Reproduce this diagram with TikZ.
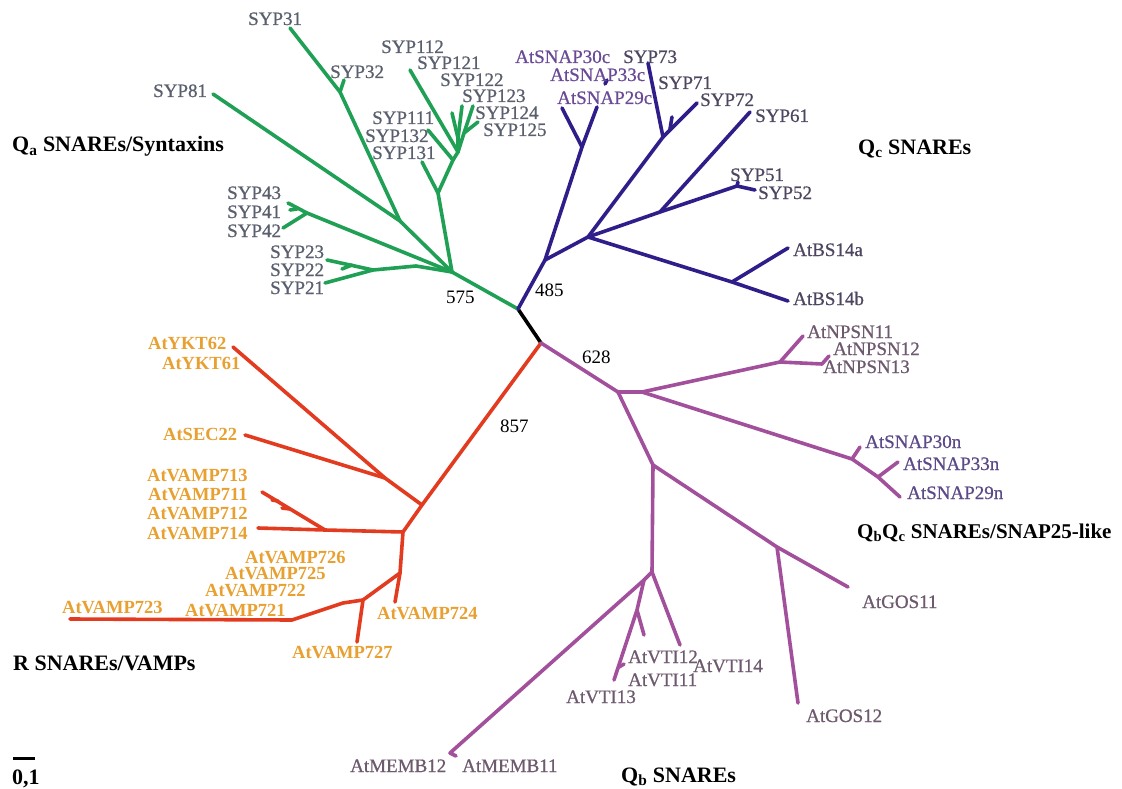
\documentclass[tikz,border=0pt]{standalone}
\usepackage{fontspec}
\setmainfont{Liberation Serif}
\newfontfamily\labfont[FakeBold=0.7]{Liberation Serif}
\definecolor{cgreen}{HTML}{1FA055}
\definecolor{cindigo}{HTML}{2F1E8A}
\definecolor{cred}{HTML}{E23B1F}
\definecolor{cmag}{HTML}{A3509C}
\definecolor{tsyp}{HTML}{5A5F6E}
\definecolor{tqcsnap}{HTML}{6A4A96}
\definecolor{tqcsyp}{HTML}{4E4660}
\definecolor{tqb}{HTML}{6E5A6E}
\definecolor{tqbsnap}{HTML}{5C4A88}
\definecolor{torange}{HTML}{E8A030}
\tikzset{
  br/.style={line width=3.6pt, line cap=round, line join=round},
  grn/.style={br, draw=cgreen},
  ind/.style={br, draw=cindigo},
  rd/.style={br, draw=cred},
  mg/.style={br, draw=cmag},
  lab/.style={anchor=base west, inner sep=0pt, font=\labfont\fontsize{19}{19}\selectfont},
  olab/.style={anchor=base west, inner sep=0pt, text=torange, font=\fontsize{18.5}{18.5}\selectfont\bfseries},
  num/.style={anchor=base west, inner sep=0pt, font=\fontsize{19}{19}\selectfont},
  cat/.style={anchor=base west, inner sep=0pt, font=\fontsize{22}{22}\selectfont\bfseries},
}
\begin{document}
\begin{tikzpicture}[x=1pt,y=-1pt]
\useasboundingbox (0,0) rectangle (1122,789);
\fill[white] (0,0) rectangle (1122,789);
% ---------- coordinates ----------
\coordinate (r0) at (518,309);
\coordinate (rB) at (541,343);
% green
\coordinate (gA) at (452,272);
\coordinate (gB) at (416,266);
\coordinate (gC) at (373,270);
\coordinate (t23) at (327,260);
\coordinate (t21) at (325,283);
\coordinate (s22a) at (352,265);
\coordinate (s22b) at (342,269);
\coordinate (gD) at (307,213);
\coordinate (t43) at (288,203);
\coordinate (t42) at (283,228);
\coordinate (s41a) at (297,209);
\coordinate (s41b) at (290,210);
\coordinate (gE) at (400,221);
\coordinate (t81) at (213,94);
\coordinate (gF) at (340,92);
\coordinate (t31) at (290,28);
\coordinate (t32) at (344,80);
\coordinate (gG) at (438,193);
\coordinate (t131) at (422,162);
\coordinate (gH) at (453,160);
\coordinate (t132) at (428,130);
\coordinate (gI) at (458,152);
\coordinate (t112) at (410,70);
\coordinate (gJ) at (458,138);
\coordinate (t121) at (452,113);
\coordinate (t122) at (462,106);
\coordinate (gK) at (464,133);
\coordinate (t123) at (473,106);
\coordinate (t125) at (478,122);
% indigo
\coordinate (iI) at (545,260);
\coordinate (iJ) at (582,147);
\coordinate (t30c) at (562,108);
\coordinate (t29c) at (597,107);
\coordinate (s33a) at (605,84);
\coordinate (s33b) at (607,80);
\coordinate (iK) at (588,237);
\coordinate (iL) at (732,282);
\coordinate (tBSa) at (788,248);
\coordinate (tBSb) at (788,301);
\coordinate (iM) at (660,212);
\coordinate (iN) at (737,186);
\coordinate (t52) at (755,190);
\coordinate (t51) at (738,182);
\coordinate (t61) at (750,112);
\coordinate (iO) at (663,137);
\coordinate (t73) at (648,63);
\coordinate (t72) at (697,103);
\coordinate (s71a) at (670,129);
\coordinate (s71b) at (672,117);
% red
\coordinate (rP) at (422,505);
\coordinate (rQ) at (385,478);
\coordinate (tYKT) at (233,347);
\coordinate (tSEC) at (245,435);
\coordinate (rR) at (403,532);
\coordinate (rS) at (325,530);
\coordinate (t714) at (258,528);
\coordinate (t711) at (262,492);
\coordinate (s712a) at (272,500);
\coordinate (s712b) at (278,501);
\coordinate (s713a) at (282,508);
\coordinate (s713b) at (290,509);
\coordinate (rT) at (400,573);
\coordinate (t724) at (395,602);
\coordinate (rU) at (363,600);
\coordinate (t727) at (357,642);
\coordinate (rV) at (343,603);
\coordinate (rW) at (292,620);
\coordinate (t723) at (70,619);
% magenta
\coordinate (mV) at (618,392);
\coordinate (mW) at (642,392);
\coordinate (mX) at (780,362);
\coordinate (tN11) at (803,336);
\coordinate (mX2) at (822,364);
\coordinate (tN12) at (829,356);
\coordinate (mY) at (852,459);
\coordinate (t30n) at (860,447);
\coordinate (mZ) at (878,477);
\coordinate (t33n) at (898,462);
\coordinate (t29n) at (900,497);
\coordinate (mAA) at (653,465);
\coordinate (mAB) at (777,547);
\coordinate (tG11) at (848,587);
\coordinate (tG12) at (798,703);
\coordinate (mAC) at (652,572);
\coordinate (mAD) at (644,580);
\coordinate (tMEMB) at (450,753);
\coordinate (sMEMB) at (456,756);
\coordinate (mAE) at (637,610);
\coordinate (tV13) at (614,680);
\coordinate (tV12) at (644,635);
\coordinate (sV11a) at (619,667);
\coordinate (sV11b) at (624,664);
\coordinate (tV14) at (680,645);
% ---------- branches ----------
\draw[br, draw=black] (r0) -- (rB);
\draw[grn] (r0) -- (gA);
\draw[grn] (gA) -- (gB) -- (gC) -- (t23);
\draw[grn] (gC) -- (t21);
\draw[grn] (s22a) -- (s22b);
\draw[grn] (gA) -- (gD) -- (t43);
\draw[grn] (gD) -- (t42);
\draw[grn] (s41a) -- (s41b);
\draw[grn] (gA) -- (gE) -- (t81);
\draw[grn] (gE) -- (gF) -- (t31);
\draw[grn] (gF) -- (t32);
\draw[grn] (gA) -- (gG) -- (t131);
\draw[grn] (gG) -- (gH) -- (t132);
\draw[grn] (gH) -- (gI) -- (t112);
\draw[grn] (gI) -- (gJ) -- (t121);
\draw[grn] (gJ) -- (t122);
\draw[grn] (gI) -- (gK) -- (t123);
\draw[grn] (gK) -- (t125);
\draw[ind] (r0) -- (iI) -- (iJ) -- (t30c);
\draw[ind] (iJ) -- (t29c);
\draw[ind] (s33a) -- (s33b);
\draw[ind] (iI) -- (iK) -- (iL) -- (tBSb);
\draw[ind] (iL) -- (tBSa);
\draw[ind] (iK) -- (iM) -- (iN) -- (t52);
\draw[ind] (iN) -- (t51);
\draw[ind] (iM) -- (t61);
\draw[ind] (iK) -- (iO) -- (t73);
\draw[ind] (iO) -- (t72);
\draw[ind] (s71a) -- (s71b);
\draw[rd] (rB) -- (rP) -- (rQ) -- (tYKT);
\draw[rd] (rQ) -- (tSEC);
\draw[rd] (rP) -- (rR) -- (rS) -- (t714);
\draw[rd] (rS) -- (t711);
\draw[rd] (s712a) -- (s712b);
\draw[rd] (s713a) -- (s713b);
\draw[rd] (rR) -- (rT) -- (t724);
\draw[rd] (rT) -- (rU) -- (t727);
\draw[rd] (rU) -- (rV) -- (rW) -- (t723);
\draw[mg] (rB) -- (mV) -- (mW) -- (mX) -- (tN11);
\draw[mg] (mX) -- (mX2) -- (tN12);
\draw[mg] (mW) -- (mY) -- (t30n);
\draw[mg] (mY) -- (mZ) -- (t33n);
\draw[mg] (mZ) -- (t29n);
\draw[mg] (mV) -- (mAA) -- (mAB) -- (tG11);
\draw[mg] (mAB) -- (tG12);
\draw[mg] (mAA) -- (mAC) -- (mAD) -- (tMEMB) -- (sMEMB);
\draw[mg] (mAD) -- (mAE) -- (tV13);
\draw[mg] (mAE) -- (tV12);
\draw[mg] (sV11a) -- (sV11b);
\draw[mg] (mAC) -- (tV14);
% ---------- labels: Qa ----------
\node[lab, text=tsyp] (l31) at (248,25) {SYP31};
\node[lab, text=tsyp] (l32) at (330,78) {SYP32};
\node[lab, text=tsyp] (l81) at (153,97) {SYP81};
\node[lab, text=tsyp] (l112) at (381,53) {SYP112};
\node[lab, text=tsyp] (l121) at (417,69) {SYP121};
\node[lab, text=tsyp] (l122) at (440,86) {SYP122};
\node[lab, text=tsyp] (l123) at (462,102) {SYP123};
\node[lab, text=tsyp] (l124) at (475,119) {SYP124};
\node[lab, text=tsyp] (l125) at (483,136) {SYP125};
\node[lab, text=tsyp] (l111) at (372,124) {SYP111};
\node[lab, text=tsyp] (l132) at (365,142) {SYP132};
\node[lab, text=tsyp] (l131) at (372,159) {SYP131};
\node[lab, text=tsyp] (l43) at (227,199) {SYP43};
\node[lab, text=tsyp] (l41) at (227,218) {SYP41};
\node[lab, text=tsyp] (l42) at (227,237) {SYP42};
\node[lab, text=tsyp] (l23) at (270,258) {SYP23};
\node[lab, text=tsyp] (l22) at (270,276) {SYP22};
\node[lab, text=tsyp] (l21) at (270,294) {SYP21};
\node[num] (n575) at (446,303) {575};
% ---------- labels: Qc ----------
\node[lab, text=tqcsnap] (l30c) at (515,63) {AtSNAP30c};
\node[lab, text=tqcsyp] (l73) at (623,63) {SYP73};
\node[lab, text=tqcsnap] (l33c) at (550,81) {AtSNAP33c};
\node[lab, text=tqcsyp] (l71) at (658,89) {SYP71};
\node[lab, text=tqcsnap] (l29c) at (557,104) {AtSNAP29c};
\node[lab, text=tqcsyp] (l72) at (700,106) {SYP72};
\node[lab, text=tqcsyp] (l61) at (755,122) {SYP61};
\node[lab, text=tqcsyp] (l51) at (730,181) {SYP51};
\node[lab, text=tqcsyp] (l52) at (758,199) {SYP52};
\node[lab, text=tqcsyp] (lBSa) at (793,256) {AtBS14a};
\node[lab, text=tqcsyp] (lBSb) at (793,305) {AtBS14b};
\node[num] (n485) at (535,296) {485};
% ---------- labels: Qb / QbQc ----------
\node[lab, text=tqb] (lN11) at (807,338) {AtNPSN11};
\node[lab, text=tqb] (lN12) at (833,355) {AtNPSN12};
\node[lab, text=tqb] (lN13) at (823,373) {AtNPSN13};
\node[lab, text=tqbsnap] (l30n) at (865,448) {AtSNAP30n};
\node[lab, text=tqbsnap] (l33n) at (903,470) {AtSNAP33n};
\node[lab, text=tqbsnap] (l29n) at (907,499) {AtSNAP29n};
\node[lab, text=tqb] (lG11) at (862,608) {AtGOS11};
\node[lab, text=tqb] (lG12) at (806,722) {AtGOS12};
\node[lab, text=tqb] (lV12) at (628,663) {AtVTI12};
\node[lab, text=tqb] (lV14) at (693,672) {AtVTI14};
\node[lab, text=tqb] (lV11) at (628,686) {AtVTI11};
\node[lab, text=tqb] (lV13) at (566,703) {AtVTI13};
\node[lab, text=tqb] (lM12) at (350,772) {AtMEMB12};
\node[lab, text=tqb] (lM11) at (462,772) {AtMEMB11};
\node[num] (n628) at (582,363) {628};
% ---------- labels: R ----------
\node[olab] (lY62) at (148,349) {AtYKT62};
\node[olab] (lY61) at (162,369) {AtYKT61};
\node[olab] (lSEC) at (163,440) {AtSEC22};
\node[olab] (l713) at (147,481) {AtVAMP713};
\node[olab] (l711) at (148,500) {AtVAMP711};
\node[olab] (l712) at (147,519) {AtVAMP712};
\node[olab] (l714) at (147,539) {AtVAMP714};
\node[olab] (l726) at (245,563) {AtVAMP726};
\node[olab] (l725) at (225,579) {AtVAMP725};
\node[olab] (l722) at (205,596) {AtVAMP722};
\node[olab] (l721) at (185,616) {AtVAMP721};
\node[olab] (l723) at (62,613) {AtVAMP723};
\node[olab] (l724) at (377,619) {AtVAMP724};
\node[olab] (l727) at (292,658) {AtVAMP727};
\node[num] (n857) at (500,432) {857};
% ---------- group titles ----------
\node[cat] (cQa) at (12,152) {Q\textsubscript{a} SNAREs/Syntaxins};
\node[cat] (cQc) at (858,154) {Q\textsubscript{c} SNAREs};
\node[cat, font=\fontsize{21}{21}\selectfont\bfseries] (cQbQc) at (857,538) {Q\textsubscript{b}Q\textsubscript{c} SNAREs/SNAP25-like};
\node[cat] (cQb) at (621,782) {Q\textsubscript{b} SNAREs};
\node[cat] (cR) at (13,670) {R SNAREs/VAMPs};
% ---------- scale bar ----------
\coordinate (sb1) at (13,758);
\coordinate (sb2) at (35,758);
\draw[line width=3pt] (sb1) -- (sb2);
\node[cat] (lsb) at (12,784) {0,1};
\end{tikzpicture}
\end{document}
